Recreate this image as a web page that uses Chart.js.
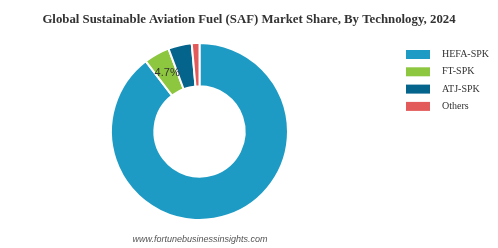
<!DOCTYPE html>
<html>
<head>
<meta charset="utf-8">
<script src="https://cdn.jsdelivr.net/npm/chart.js@4"></script>
<style>
html,body{margin:0;padding:0;background:#fff;}
#wrap{width:498px;height:248px;position:relative;}
</style>
</head>
<body>
<div id="wrap"><canvas id="c" width="498" height="248"></canvas></div>
<script>
const titleText = "Global Sustainable Aviation Fuel (SAF) Market Share, By Technology, 2024";
const sourceText = "www.fortunebusinessinsights.com";
const categories = ["HEFA-SPK", "FT-SPK", "ATJ-SPK", "Others"];
const shares = [89.6, 4.7, 4.3, 1.4];
const shownLabels = ["", "4.7%", "", ""];
const colors = ["#1e9bc4", "#8dc63f", "#05648c", "#e35a5a"];

const extras = {
  id: 'extras',
  afterDraw(chart) {
    const ctx = chart.ctx;
    ctx.save();
    // title
    ctx.fillStyle = '#333';
    ctx.font = 'bold 12.8px "Liberation Serif", "Times New Roman", serif';
    ctx.textAlign = 'center';
    ctx.textBaseline = 'middle';
    ctx.fillText(titleText, 249, 19.5);
    // slice labels
    const meta = chart.getDatasetMeta(0);
    ctx.font = '11px "Liberation Sans", Arial, sans-serif';
    ctx.fillStyle = '#333';
    meta.data.forEach((arc, i) => {
      if (!shownLabels[i]) return;
      const p = arc.tooltipPosition();
      ctx.fillText(shownLabels[i], p.x, p.y);
    });
    // legend
    ctx.textAlign = 'left';
    ctx.font = '10px "Liberation Serif", "Times New Roman", serif';
    categories.forEach((c, i) => {
      const y = 50 + i * 17.3;
      ctx.fillStyle = colors[i];
      ctx.fillRect(406, y, 24, 9);
      ctx.fillStyle = '#333';
      ctx.fillText(c, 442, y + 4.5);
    });
    // source
    ctx.textAlign = 'center';
    ctx.fillStyle = '#555';
    ctx.font = 'italic 9px "Liberation Sans", Arial, sans-serif';
    ctx.fillText(sourceText, 200, 239);
    ctx.restore();
  }
};

new Chart(document.getElementById('c'), {
  type: 'doughnut',
  data: {
    labels: categories,
    datasets: [{
      data: shares,
      backgroundColor: colors,
      borderColor: '#ffffff',
      borderWidth: 2,
      hoverOffset: 0
    }]
  },
  options: {
    responsive: false,
    animation: false,
    cutout: '51%',
    layout: { padding: { left: 110, right: 209, top: 42, bottom: 27 } },
    plugins: {
      legend: { display: false },
      title: { display: false },
      tooltip: { enabled: false }
    }
  },
  plugins: [extras]
});
</script>
</body>
</html>
